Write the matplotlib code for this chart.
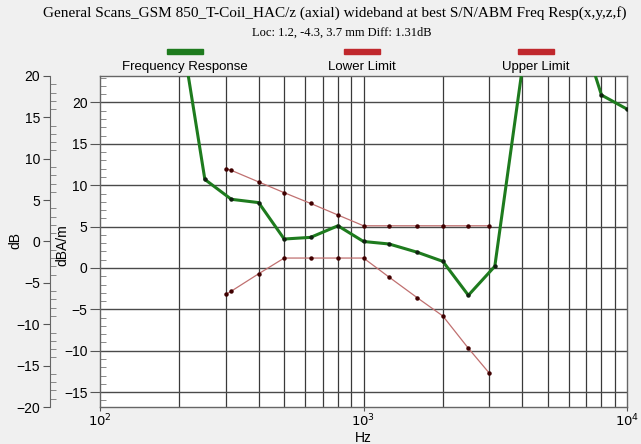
import matplotlib.pyplot as plt
import numpy as np
from matplotlib.patches import Rectangle
from matplotlib.ticker import FixedLocator, MultipleLocator, NullLocator

# frequency response (third octave), values in dBA/m
freq = [200, 250, 315, 400, 500, 630, 800, 1000, 1250, 1600, 2000, 2500,
        3150, 4000, 5000, 6300, 8000, 10000]
resp = [30.0, 10.7, 8.3, 7.9, 3.5, 3.7, 5.1, 3.2, 2.9, 1.9, 0.8, -3.3,
        0.2, 24.0, 31.0, 31.3, 20.9, 19.2]

lim_freq = [300, 315, 400, 500, 630, 800, 1000, 1250, 1600, 2000, 2500, 3000]
upper = [12.0, 11.8, 10.4, 9.1, 7.8, 6.4, 5.1, 5.1, 5.1, 5.1, 5.1, 5.1]
lower = [-3.2, -2.8, -0.7, 1.2, 1.2, 1.2, 1.2, -1.1, -3.6, -5.8, -9.7, -12.7]

legend_labels = ["Frequency Response", "Lower Limit", "Upper Limit"]
legend_colors = ["#1e7b1e", "#c0282d", "#c0282d"]

title = "General Scans_GSM 850_T-Coil_HAC/z (axial) wideband at best S/N/ABM Freq Resp(x,y,z,f)"
subtitle = "Loc: 1.2, -4.3, 3.7 mm Diff: 1.31dB"

W, H = 641, 444
fig = plt.figure(figsize=(W / 100, H / 100), dpi=100, facecolor="#f0f0f0")
plt.rcParams["font.family"] = ["Liberation Sans", "DejaVu Sans"]

left, right, top, bottom = 100, 627, 76, 407
pos = [left / W, 1 - bottom / H, (right - left) / W, (bottom - top) / H]
ax = fig.add_axes(pos)
ax.set_facecolor("white")

ax.set_xscale("log")
ax.set_xlim(100, 10000)
ax.set_ylim(-16.8, 23.2)

# grid
ax.xaxis.set_major_locator(FixedLocator([100, 1000, 10000]))
minor_x = [m * d for d in (100, 1000) for m in range(2, 10)]
for xv in minor_x + [1000]:
    ax.axvline(xv, color="#3a3a3a", lw=0.9, zorder=1)
for yv in range(-15, 21, 5):
    ax.axhline(yv, color="#4a4a4a", lw=1.0, zorder=1)
ax.xaxis.set_minor_locator(NullLocator())
ax.set_xticklabels([r"$10^2$", r"$10^3$", r"$10^4$"])
ax.tick_params(axis="x", which="major", direction="out", length=3, labelsize=9.5,
               color="#555555", pad=1)
fig.text(363 / W, 1 - 438 / H, "Hz", fontsize=10, ha="center", va="center")

ax.yaxis.set_major_locator(MultipleLocator(5))
ax.yaxis.set_minor_locator(MultipleLocator(1))
ax.tick_params(axis="y", which="major", direction="out", length=7, labelsize=10,
               color="#555555", pad=2)
ax.tick_params(axis="y", which="minor", direction="in", length=4, color="#777777")
for s in ax.spines.values():
    s.set_color("#666666")
    s.set_linewidth(1.0)
fig.text(62 / W, 1 - 245 / H, "dBA/m", rotation=90, fontsize=10, ha="center", va="center")

# data
ax.plot(freq, resp, color="#1e7b1e", lw=2.2, zorder=3, marker="o",
        markersize=2.2, markerfacecolor="#102010", markeredgecolor="#102010")
ax.plot(lim_freq, upper, color="#c07070", lw=0.9, zorder=2, marker="o",
        markersize=2.2, markerfacecolor="#400000", markeredgecolor="#400000")
ax.plot(lim_freq, lower, color="#c07070", lw=0.9, zorder=2, marker="o",
        markersize=2.2, markerfacecolor="#400000", markeredgecolor="#400000")

# outer dB axis
ax2 = fig.add_axes([50 / W, pos[1], 0.001, pos[3]])
ax2.patch.set_visible(False)
for k in ("top", "right", "bottom"):
    ax2.spines[k].set_visible(False)
ax2.spines["left"].set_color("#666666")
ax2.set_xticks([])
ax2.set_ylim(-20, 20)
ax2.yaxis.set_major_locator(MultipleLocator(5))
ax2.yaxis.set_minor_locator(MultipleLocator(1))
ax2.tick_params(axis="y", which="major", direction="out", length=5, labelsize=10,
                color="#555555", pad=2)
ax2.tick_params(axis="y", which="minor", direction="in", length=4, color="#777777")
fig.text(15 / W, 1 - 240 / H, "dB", rotation=90, fontsize=10, ha="center", va="center")

# titles
fig.text(335 / W, 1 - 13 / H, title, fontsize=11, ha="center", va="center",
         family=["Liberation Serif", "DejaVu Serif"])
fig.text(342 / W, 1 - 33 / H, subtitle, fontsize=9, ha="center", va="center",
         family=["Liberation Serif", "DejaVu Serif"])

# legend
centers = [185, 362, 536]
for cx, lab, col in zip(centers, legend_labels, legend_colors):
    fig.add_artist(Rectangle(((cx - 18) / W, 1 - 54 / H), 36 / W, 5 / H,
                             transform=fig.transFigure, color=col))
    fig.text(cx / W, 1 - 67 / H, lab, fontsize=9.5, ha="center", va="center")

fig.savefig("out.png", dpi=100, facecolor=fig.get_facecolor())
